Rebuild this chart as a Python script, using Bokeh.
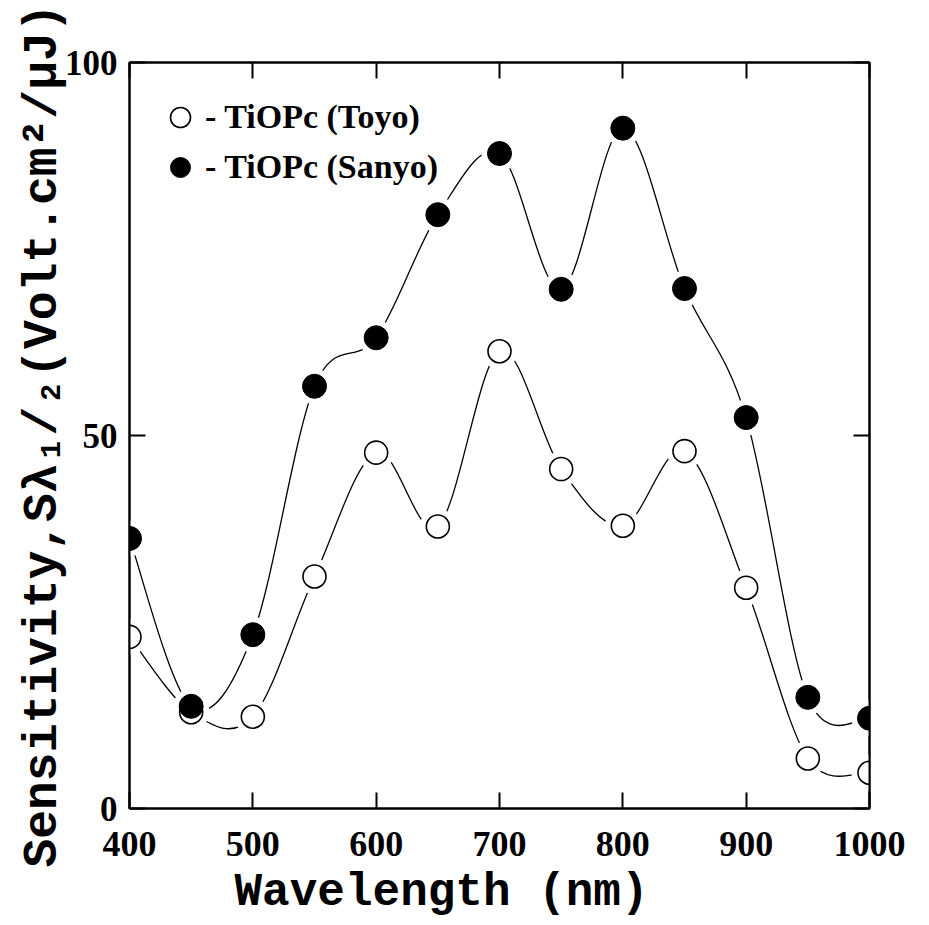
import numpy as np
from bokeh.plotting import figure
from bokeh.models import LinearAxis, FixedTicker, Legend, LegendItem, Range1d, Title
from bokeh.embed import file_html
from bokeh.resources import INLINE

# ---- data ----
wavelength = [400, 450, 500, 550, 600, 650, 700, 750, 800, 850, 900, 950, 1000]
toyo = [23.0, 12.9, 12.3, 31.1, 47.7, 37.8, 61.3, 45.5, 37.9, 47.9, 29.6, 6.7, 4.8]
sanyo = [36.2, 13.7, 23.3, 56.6, 63.1, 79.6, 87.8, 69.6, 91.2, 69.7, 52.4, 14.9, 12.1]
x_ticks = [400, 500, 600, 700, 800, 900, 1000]
y_ticks = [0, 50, 100]
x_label = "Wavelength (nm)"
y_label = "Sensitivity,Sλ₁/₂(Volt.cm²/μJ)"
series_names = ["- TiOPc (Toyo)", "- TiOPc (Sanyo)"]


def smooth_segments(xs, ys):
    """Catmull-Rom curve through the points, as cubic Bezier control points."""
    x = np.asarray(xs, float)
    y = np.asarray(ys, float)
    n = len(x)
    xp = np.concatenate([[x[0]], x, [x[-1]]])
    yp = np.concatenate([[y[0]], y, [y[-1]]])
    cx0 = xp[1:n] + (xp[2:n + 1] - xp[0:n - 1]) / 6.0
    cy0 = yp[1:n] + (yp[2:n + 1] - yp[0:n - 1]) / 6.0
    cx1 = xp[2:n + 1] - (xp[3:n + 2] - xp[1:n]) / 6.0
    cy1 = yp[2:n + 1] - (yp[3:n + 2] - yp[1:n]) / 6.0
    return dict(x0=x[:-1], y0=y[:-1], x1=x[1:], y1=y[1:],
                cx0=cx0, cy0=cy0, cx1=cx1, cy1=cy1)


p = figure(frame_width=740, frame_height=746,
           x_range=Range1d(400, 1000), y_range=Range1d(0, 100),
           output_backend="svg", toolbar_location=None,
           min_border_left=129, min_border_top=62, min_border_right=40,
           min_border_bottom=0)
p.xgrid.visible = False
p.ygrid.visible = False
p.outline_line_color = "black"
p.outline_line_width = 2
p.background_fill_color = "white"
p.border_fill_color = "white"

TICK_FONT = "Liberation Serif"
LABEL_FONT = "Liberation Mono"

for ax in (p.xaxis[0], p.yaxis[0]):
    ax.major_tick_in = 16
    ax.major_tick_out = 0
    ax.minor_tick_line_color = None
    ax.axis_line_width = 2
    ax.major_tick_line_width = 2
    ax.major_label_text_font = TICK_FONT
    ax.major_label_text_font_style = "bold"
    ax.major_label_text_color = "black"
    ax.axis_label_text_font = LABEL_FONT
    ax.axis_label_text_font_style = "bold"
    ax.axis_label_text_color = "black"

p.xaxis.major_label_text_font_size = "36px"
p.yaxis.major_label_text_font_size = "35px"
p.xaxis.ticker = FixedTicker(ticks=x_ticks)
p.yaxis.ticker = FixedTicker(ticks=y_ticks)
p.yaxis.axis_label = y_label
p.yaxis.axis_label_text_font_size = "48px"
p.xaxis.major_label_standoff = 23
p.yaxis.major_label_standoff = 12
p.yaxis.axis_label_standoff = -8

# x-axis title, placed left of centre as in the reference
xt = Title(text=x_label, align="left", offset=105, standoff=12, vertical_align="bottom",
           text_font=LABEL_FONT, text_font_style="bold", text_font_size="46px",
           text_color="black")
p.add_layout(xt, "below")

top = LinearAxis(ticker=FixedTicker(ticks=x_ticks), major_tick_in=16, major_tick_out=0,
                 major_tick_line_width=2, minor_tick_line_color=None, axis_line_width=2,
                 major_label_text_color=None, major_label_standoff=0)
right = LinearAxis(ticker=FixedTicker(ticks=y_ticks), major_tick_in=16, major_tick_out=0,
                   major_tick_line_width=2, minor_tick_line_color=None, axis_line_width=2,
                   major_label_text_color=None, major_label_standoff=0)
p.add_layout(top, "above")
p.add_layout(right, "right")

# smooth connecting curves
for ys in (toyo, sanyo):
    p.bezier(source=smooth_segments(wavelength, ys), x0="x0", y0="y0", x1="x1", y1="y1",
             cx0="cx0", cy0="cy0", cx1="cx1", cy1="cy1",
             line_color="black", line_width=1.3)

# white halos leave the small gaps around the markers
for ys in (toyo, sanyo):
    p.scatter(wavelength, ys, marker="circle", size=36, fill_color="white",
              line_color=None)

r_toyo = p.scatter(wavelength, toyo, marker="circle", size=23, fill_color="white",
                   line_color="black", line_width=1.6)
r_sanyo = p.scatter(wavelength, sanyo, marker="circle", size=24, fill_color="black",
                    line_color="black", line_width=1)

legend = Legend(items=[LegendItem(label=series_names[0], renderers=[r_toyo]),
                       LegendItem(label=series_names[1], renderers=[r_sanyo])],
                location=(26, 616))
legend.label_text_font = TICK_FONT
legend.label_text_font_style = "bold"
legend.label_text_font_size = "34px"
legend.label_text_color = "black"
legend.border_line_color = None
legend.background_fill_alpha = 0
legend.padding = 0
legend.margin = 0
legend.spacing = 0
legend.glyph_width = 50
legend.glyph_height = 50
legend.label_height = 50
legend.label_standoff = 0
p.add_layout(legend)

open("out.html", "w").write(file_html(p, INLINE))
